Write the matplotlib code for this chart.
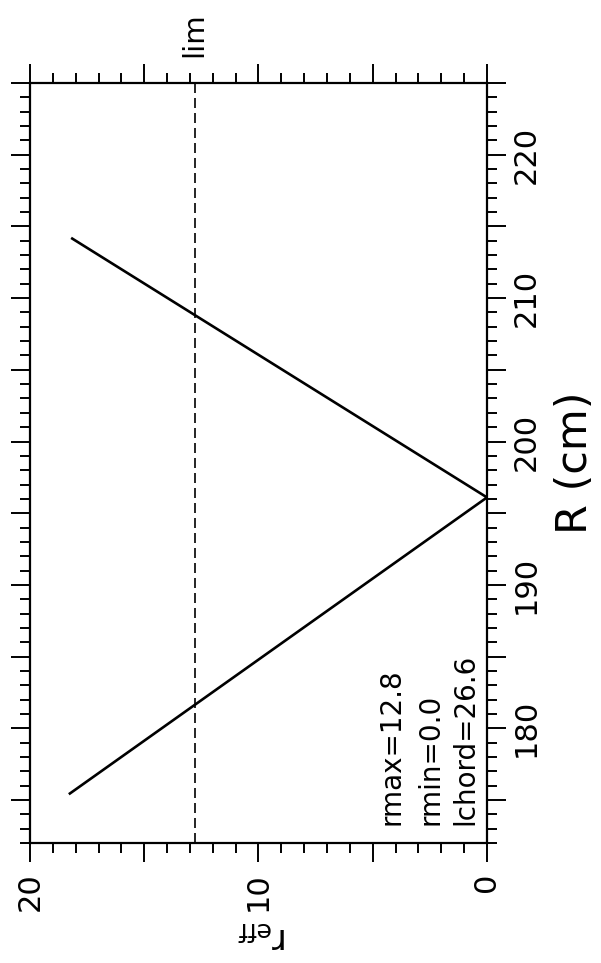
import matplotlib
matplotlib.use("Agg")
import matplotlib.pyplot as plt
from matplotlib.ticker import MultipleLocator, FixedLocator, FuncFormatter

# ---- data ----
R_cm = [175.4, 196.1, 214.2]          # R (cm) along the chord
r_eff = [18.3, 0.0, 18.2]             # effective radius
r_lim = 12.8                          # "lim" dashed level
R_labels = [180, 190, 200, 210, 220]
r_labels = [0, 10, 20]
annotations = ["rmax=12.8", "rmin=0.0", "lchord=26.6"]

plt.rcParams['font.family'] = ['DejaVu Sans']

fig = plt.figure(figsize=(6.01, 9.63), dpi=100)
ax = fig.add_axes([0.0499, 0.1246, 0.7604, 0.7892])

# rotated layout: r_eff horizontal (inverted), R vertical
ax.plot(r_eff, R_cm, color='black', lw=1.9, solid_capstyle='butt')
ax.axvline(r_lim, color='black', lw=1.2, dashes=(6, 3))

ax.set_xlim(20, 0)
ax.set_ylim(172, 225)

for s in ax.spines.values():
    s.set_linewidth(1.6)

ax.xaxis.set_major_locator(MultipleLocator(5))
ax.xaxis.set_minor_locator(MultipleLocator(1))
ax.yaxis.set_major_locator(MultipleLocator(5))
ax.yaxis.set_minor_locator(MultipleLocator(1))

ax.xaxis.set_major_formatter(FuncFormatter(
    lambda v, p: f"{int(round(v))}" if int(round(v)) in r_labels else ""))
ax.yaxis.set_major_formatter(FuncFormatter(
    lambda v, p: f"{int(round(v))}" if int(round(v)) in R_labels else ""))

ax.tick_params(which='both', direction='out', top=True, right=True,
               bottom=True, left=True, labelleft=False, labeltop=False,
               labelbottom=True, labelright=True, width=1.4, colors='black')
ax.tick_params(which='major', length=14, labelsize=22)
ax.tick_params(which='minor', length=7.5)
ax.tick_params(axis='x', which='major', pad=7, labelrotation=90)
ax.tick_params(axis='y', which='major', pad=4, labelrotation=90)
for lab in ax.get_yticklabels():
    lab.set_verticalalignment('center')

# axis labels
ax.text(1.1926, 0.5, "R (cm)", transform=ax.transAxes, rotation=90,
        ha='center', va='center', fontsize=31)
ax.text(0.509, -0.124, r"$\mathrm{r}_{\mathrm{eff}}$", transform=ax.transAxes,
        rotation=180, ha='center', va='center', fontsize=26)

# "lim" label above dashed line
ax.annotate("lim", xy=(r_lim, 225), xytext=(0, 19), textcoords='offset points',
            rotation=90, ha='center', va='bottom', fontsize=21,
            annotation_clip=False)

# stacked annotations (rotated)
xs = [0.792, 0.877, 0.952]
for t, xa in zip(annotations, xs):
    ax.text(xa, 0.024, t, transform=ax.transAxes, rotation=90,
            ha='center', va='bottom', fontsize=20)

fig.savefig("out.png", dpi=100)
